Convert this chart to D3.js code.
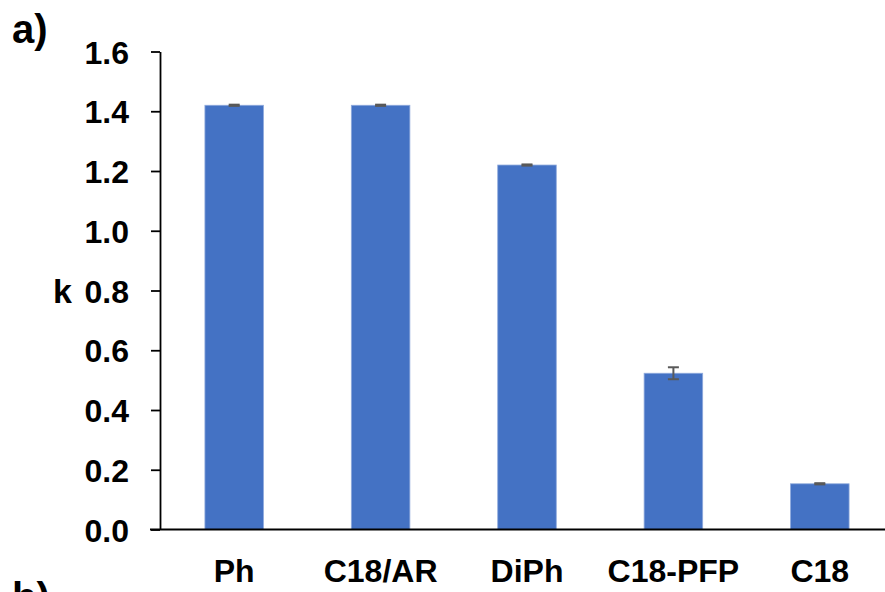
<!DOCTYPE html>
<html>
<head>
<meta charset="utf-8">
<script src="https://cdn.jsdelivr.net/npm/d3@7"></script>
<style>
  body { margin: 0; background: #fff; }
  svg text { font-family: "Liberation Sans", Arial, sans-serif; font-weight: bold; fill: #000; }
</style>
</head>
<body>
<svg id="myGraph" width="885" height="592"></svg>
<script>
// data
var categories = ["Ph", "C18/AR", "DiPh", "C18-PFP", "C18"];
var kValues = [1.42, 1.42, 1.22, 0.523, 0.153];
var kErrors = [0.002, 0.002, 0.002, 0.02, 0.002];
var yTicks = [0, 0.2, 0.4, 0.6, 0.8, 1.0, 1.2, 1.4, 1.6];

var svg = d3.select("#myGraph");

var x = d3.scaleBand()
    .domain(categories)
    .range([161, 893])
    .paddingInner(0.6)
    .paddingOuter(0.3);

var y = d3.scaleLinear()
    .domain([0, 1.6])
    .range([529.5, 51.5]);

var data = categories.map(function(c, i){
    return {cat: c, v: kValues[i], e: kErrors[i]};
});

// bars
svg.selectAll("rect.bar")
    .data(data)
    .enter()
    .append("rect")
    .attr("class", "bar")
    .attr("x", function(d){ return x(d.cat); })
    .attr("y", function(d){ return y(d.v); })
    .attr("width", x.bandwidth())
    .attr("height", function(d){ return y(0) - y(d.v); })
    .attr("fill", "#4472C4")
    .attr("stroke", "#8faadc")
    .attr("stroke-width", 0.8);

// error bars
var eb = svg.selectAll("g.err")
    .data(data)
    .enter()
    .append("g")
    .attr("class", "err")
    .attr("stroke", "#595959")
    .attr("stroke-width", 2);
eb.append("line")
    .attr("x1", function(d){ return x(d.cat) + x.bandwidth()/2; })
    .attr("x2", function(d){ return x(d.cat) + x.bandwidth()/2; })
    .attr("y1", function(d){ return y(d.v + d.e); })
    .attr("y2", function(d){ return y(d.v - d.e); });
eb.selectAll("line.cap")
    .data(function(d){ return [d.v + d.e, d.v - d.e].map(function(t){ return {cat: d.cat, t: t}; }); })
    .enter()
    .append("line")
    .attr("class", "cap")
    .attr("x1", function(d){ return x(d.cat) + x.bandwidth()/2 - 5.5; })
    .attr("x2", function(d){ return x(d.cat) + x.bandwidth()/2 + 5.5; })
    .attr("y1", function(d){ return y(d.t); })
    .attr("y2", function(d){ return y(d.t); });

// y axis
var yAxis = svg.append("g")
    .attr("transform", "translate(160,0)")
    .call(d3.axisLeft(y).tickValues(yTicks).tickFormat(d3.format(".1f")).tickSize(9).tickSizeOuter(0).tickPadding(22));
yAxis.selectAll("line, path").attr("stroke", "#000").attr("stroke-width", 1.8);
yAxis.selectAll("text").style("font-size", "32px").attr("dy", "0.36em");

// x axis line
svg.append("line")
    .attr("x1", 150).attr("x2", 885)
    .attr("y1", y(0)).attr("y2", y(0))
    .attr("stroke", "#000").attr("stroke-width", 2);

// category labels
svg.selectAll("text.cat")
    .data(categories)
    .enter()
    .append("text")
    .attr("class", "cat")
    .attr("x", function(d){ return x(d) + x.bandwidth()/2; })
    .attr("y", 582)
    .attr("text-anchor", "middle")
    .style("font-size", "32px")
    .text(function(d){ return d; });

// axis title
svg.append("text")
    .attr("x", 53).attr("y", 303)
    .style("font-size", "34px")
    .text("k");

// panel letters
svg.append("text")
    .attr("x", 12).attr("y", 43)
    .style("font-size", "40px")
    .text("a)");
svg.append("text")
    .attr("x", 12).attr("y", 611)
    .style("font-size", "40px")
    .text("b)");
</script>
</body>
</html>
